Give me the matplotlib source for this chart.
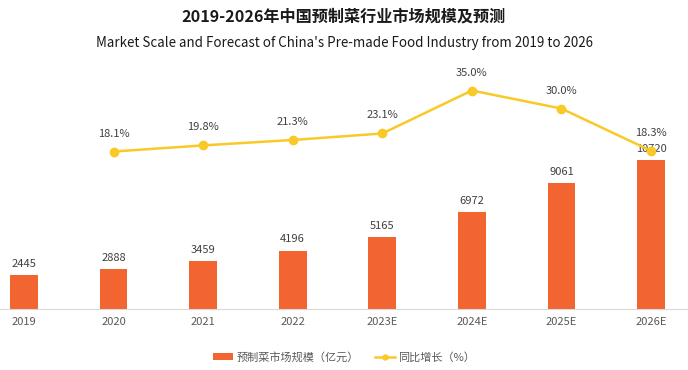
import matplotlib.pyplot as plt

plt.rcParams['font.family'] = ['Noto Sans CJK SC', 'DejaVu Sans']

years = ['2019', '2020', '2021', '2022', '2023E', '2024E', '2025E', '2026E']
scale = [2445, 2888, 3459, 4196, 5165, 6972, 9061, 10720]
growth_years = ['2020', '2021', '2022', '2023E', '2024E', '2025E', '2026E']
growth = [18.1, 19.8, 21.3, 23.1, 35.0, 30.0, 18.3]

bar_color = '#F26430'
line_color = '#F9C928'
text_color = '#404040'

fig = plt.figure(figsize=(6.88, 3.7), dpi=100)
ax = fig.add_axes([0, 0.165, 1, 0.646])
x = list(range(len(years)))
bars = ax.bar(x, scale, width=0.31, color=bar_color, label='预制菜市场规模（亿元）', zorder=2)
for xi, v in zip(x, scale):
    ax.text(xi, v + 450, str(v), ha='center', va='bottom', fontsize=8, color=text_color)

ax.set_xlim(-0.268, 7.413)
ax.set_ylim(0, 17195)
ax.set_xticks(x)
ax.set_xticklabels(years, fontsize=8, color='#595959')
ax.tick_params(axis='x', length=0, pad=6)
ax.set_yticks([])
for s in ['top', 'right', 'left']:
    ax.spines[s].set_visible(False)
ax.spines['bottom'].set_color('#D9D9D9')

ax2 = ax.twinx()
gx = [years.index(g) for g in growth_years]
line, = ax2.plot(gx, growth, color=line_color, lw=1.8, marker='o', ms=6,
                 label='同比增长（%）', zorder=3)
for xi, v in zip(gx, growth):
    ax2.text(xi, v + 3.6, f'{v:.1f}%', ha='center', va='bottom', fontsize=8, color=text_color)
ax2.set_ylim(-25.5, 40.7)
ax2.set_yticks([])
for s in ['top', 'right', 'left', 'bottom']:
    ax2.spines[s].set_visible(False)

fig.text(0.5, 0.955, '2019-2026年中国预制菜行业市场规模及预测', ha='center', va='center',
         fontsize=11.6, fontweight='bold', color='#1a1a1a')
fig.text(0.5, 0.885, "Market Scale and Forecast of China's Pre-made Food Industry from 2019 to 2026",
         ha='center', va='center', fontsize=9.6, color='#1a1a1a')

fig.legend(handles=[bars, line], loc='center', bbox_to_anchor=(0.5, 0.035), ncol=2,
           frameon=False, fontsize=8, handlelength=1.8, handletextpad=0.3,
           columnspacing=1.4, labelcolor='#595959', markerscale=0.6)

fig.savefig('out.png', dpi=100)
